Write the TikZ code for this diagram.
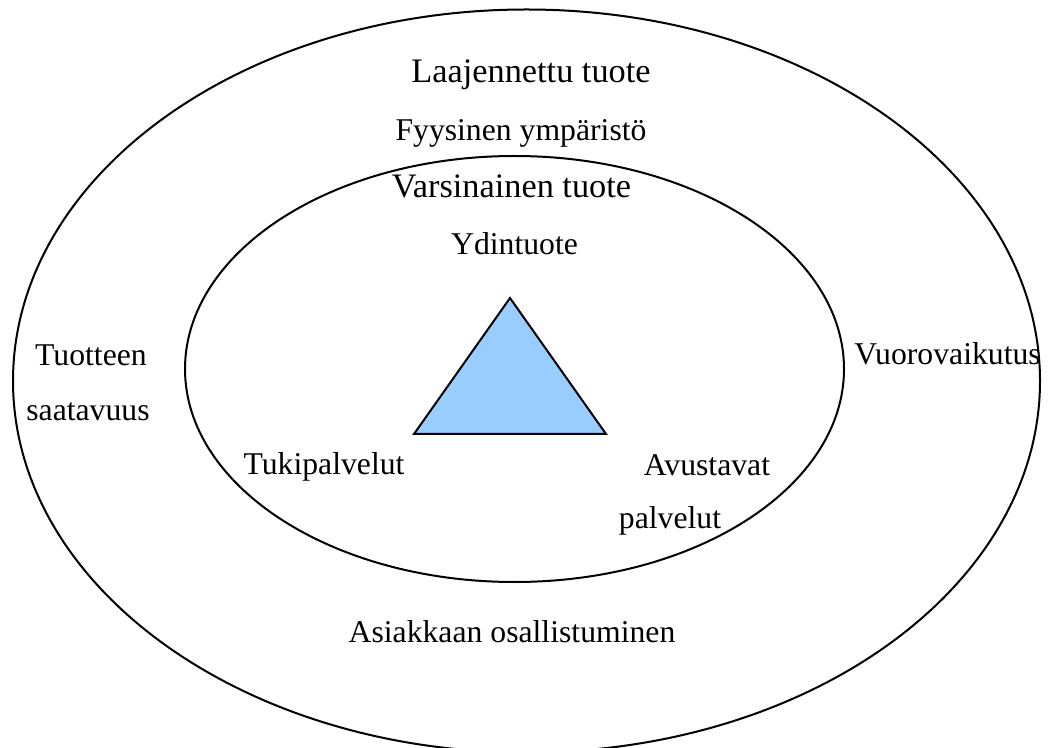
\documentclass[tikz,border=0pt]{standalone}
\usepackage{fontspec}
\setmainfont{Liberation Serif}
\definecolor{triblue}{HTML}{99CCFF}
\begin{document}
\begin{tikzpicture}[x=0.5pt,y=-0.5pt,
  ring/.style={draw=black,line width=1pt},
  big/.style={anchor=base,inner sep=0pt,font=\fontsize{17.15}{20}\selectfont},
  small/.style={anchor=base,inner sep=0pt,font=\fontsize{15.85}{19}\selectfont}]
\useasboundingbox (0,0) rectangle (1049,748);
\draw[ring] (526.5,381) ellipse [x radius=513.5, y radius=371.5];
\draw[ring] (514.5,369) ellipse [x radius=329.5, y radius=213];
\draw[ring,fill=triblue,line join=miter] (510,298) -- (606,434) -- (414,434) -- cycle;
\node[big] (laaj) at (531,83) {Laajennettu tuote};
\node[small] (fyys) at (521,141) {Fyysinen ympäristö};
\node[big] (vars) at (511.5,198) {Varsinainen tuote};
\node[small] (ydin) at (514.5,255) {Ydintuote};
\node[small] (tuot) at (91,366) {Tuotteen};
\node[small] (saat) at (88,421) {saatavuus};
\node[small] (vuor) at (947.5,365) {Vuorovaikutus};
\node[small] (tuki) at (324,474) {Tukipalvelut};
\node[small] (avus) at (707,475) {Avustavat};
\node[small] (palv) at (670,528) {palvelut};
\node[small] (asia) at (512,642) {Asiakkaan osallistuminen};
\end{tikzpicture}
\end{document}
